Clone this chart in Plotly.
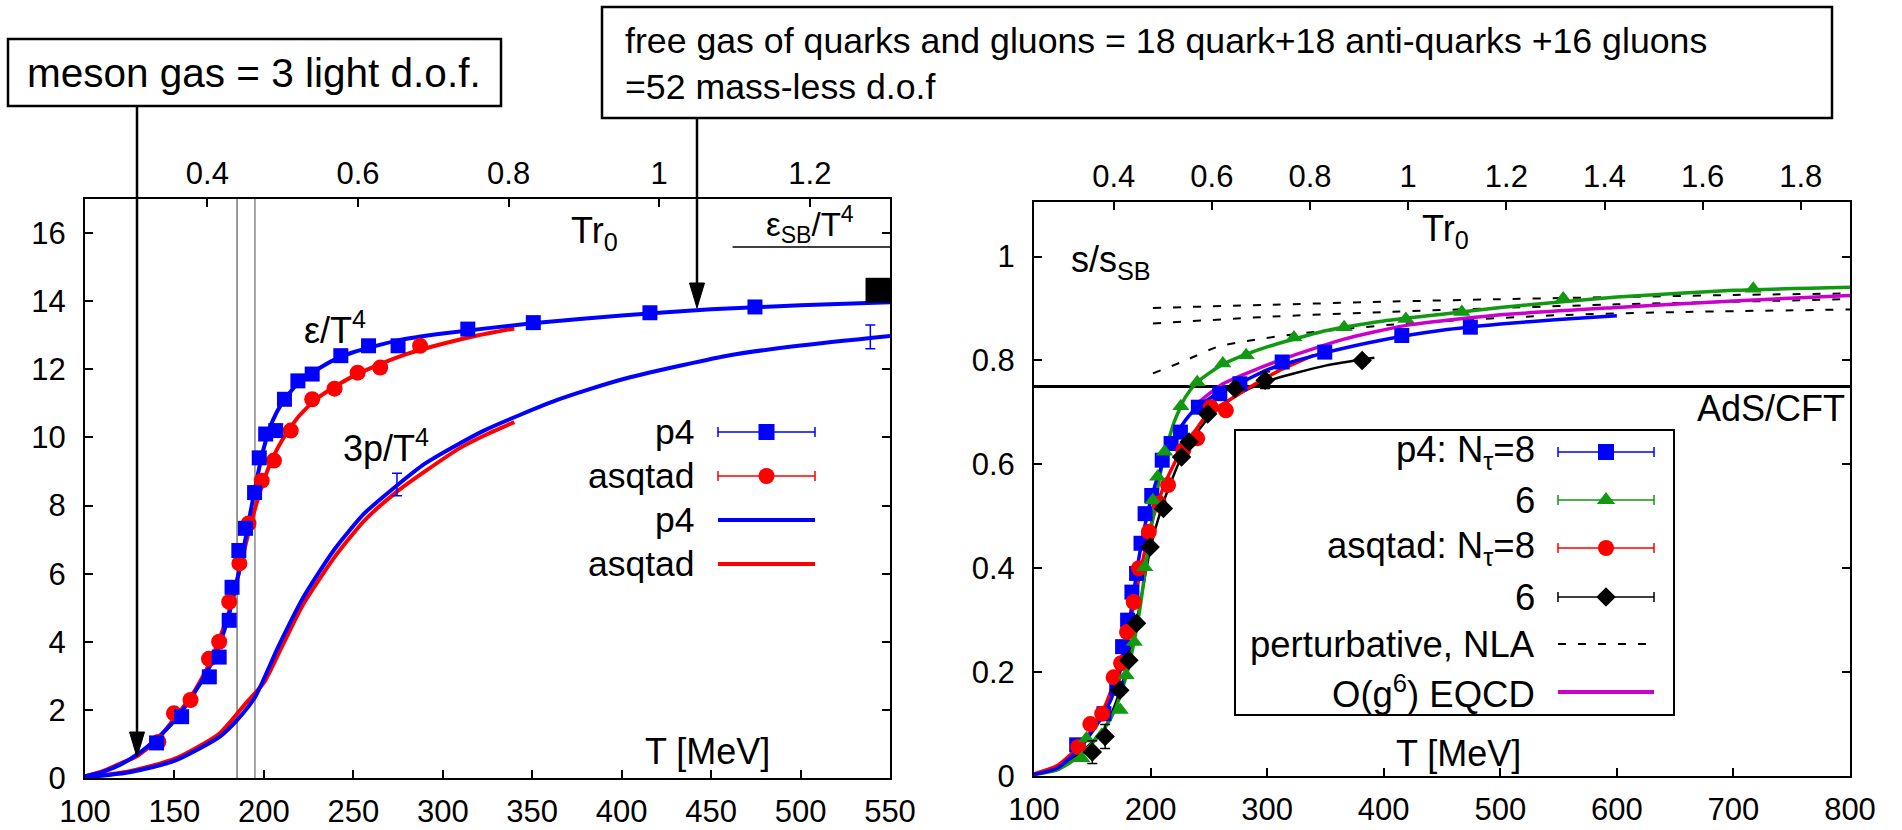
import plotly.graph_objects as go

W, H = 1902, 830
FONT = "Liberation Sans, Arial, Helvetica, sans-serif"
BLUE = "#0000ff"
RED = "#ff0000"
GREEN = "#119911"
MAG = "#cc00cc"
R0 = 421.0  # T [MeV] per unit of T*r0

# ---------------- left panel data ----------------
T_e_p4 = [140, 154, 169.5, 175, 180.6, 182.2, 186, 189.7, 194.8, 197.4, 201, 206.6,
          211.5, 219, 227, 243, 258.5, 275, 314, 350.6, 415.8, 474.5]
e_p4 = [1.03, 1.8, 2.97, 3.55, 4.63, 5.6, 6.68, 7.33, 8.38, 9.4, 10.1, 10.2,
        11.12, 11.66, 11.86, 12.4, 12.69, 12.69, 13.18, 13.37, 13.66, 13.83]
T_e_asq = [141, 149.7, 159, 169.3, 175, 180.6, 186.3, 191.4, 198.8, 205.6, 215, 227,
           239.5, 252.4, 265, 287.3]
e_asq = [1.06, 1.9, 2.29, 3.5, 4.0, 5.17, 6.3, 7.47, 8.73, 9.32, 10.2, 11.12,
         11.43, 11.9, 12.05, 12.69]

T_line_e_p4 = [100, 110, 120, 130, 140, 150, 160, 170, 175, 180, 185, 190, 195, 200, 205,
               210, 215, 220, 230, 240, 250, 275, 300, 350, 400, 450, 500, 550]
line_e_p4 = [0.05, 0.18, 0.4, 0.72, 1.15, 1.68, 2.4, 3.3, 3.9, 4.7, 5.8, 7.1, 8.5, 9.7, 10.5,
             11.0, 11.35, 11.65, 12.0, 12.3, 12.5, 12.85, 13.05, 13.35, 13.58, 13.76, 13.88, 13.97]
T_line_e_asq = [100, 110, 120, 128.5, 140, 150, 160, 170, 180, 185, 190, 195, 200, 205, 210,
                215, 220, 230, 240, 250, 265, 280, 300, 320, 340]
line_e_asq = [0.05, 0.2, 0.43, 0.62, 1.1, 1.75, 2.45, 3.4, 4.8, 5.8, 6.9, 7.9, 8.75, 9.4, 9.9,
              10.3, 10.65, 11.15, 11.5, 11.8, 12.15, 12.45, 12.75, 13.0, 13.2]

T_line_p_p4 = [100, 125, 150, 175, 185, 195, 208, 222, 239, 256, 273, 290, 323, 364,
               400, 459, 500, 550]
line_p_p4 = [0.02, 0.17, 0.5, 1.2, 1.7, 2.37, 3.85, 5.3, 6.68, 7.76, 8.53, 9.23, 10.2, 11.1,
             11.7, 12.4, 12.7, 12.98]
T_line_p_asq = [100, 125, 150, 175, 190, 200, 210, 222, 239, 256, 273, 290, 310, 325, 340]
line_p_asq = [0.02, 0.2, 0.56, 1.3, 2.2, 2.8, 3.85, 5.1, 6.45, 7.55, 8.35, 9.0, 9.7, 10.1, 10.45]

T_p_err = [274.4, 539]
p_err_val = [8.62, 12.95]
p_err = [0.33, 0.35]

T_SB_line = [462, 550]
eps_SB = [15.59, 15.59]
T_cont = [543.3]
e_cont = [14.32]

T_vlines = [185, 195]

# ---------------- right panel data ----------------
T_s_p4_8 = [136.6, 160, 171, 176, 180.3, 184, 188, 191.8, 195.3, 201, 210, 217.6, 225.6,
            241, 259.4, 276.6, 312.9, 349.4, 415.5, 474.3]
s_p4_8 = [0.06, 0.12, 0.169, 0.249, 0.30, 0.354, 0.39, 0.448, 0.505, 0.54, 0.608, 0.64, 0.662,
          0.71, 0.736, 0.755, 0.797, 0.816, 0.848, 0.864]
T_s_p4_6 = [141, 145, 158, 174, 179, 186, 195, 202, 206, 212, 226, 240, 262, 282, 323, 366,
            419, 467, 554, 717]
s_p4_6 = [0.034, 0.072, 0.079, 0.127, 0.194, 0.258, 0.402, 0.531, 0.576, 0.624, 0.712, 0.758,
          0.794, 0.81, 0.844, 0.864, 0.880, 0.893, 0.919, 0.938]
T_s_asq_8 = [138, 148.3, 158.5, 168.3, 174.7, 179.8, 185.5, 190, 198.5, 207.3, 215, 228, 240,
             251.6, 264.6]
s_asq_8 = [0.056, 0.10, 0.12, 0.19, 0.217, 0.277, 0.335, 0.40, 0.47, 0.525, 0.56, 0.627, 0.65,
           0.71, 0.704]
T_s_asq_6 = [150, 161, 173.6, 181.4, 188, 199.6, 211, 226.6, 233, 249, 272.4, 298.3, 381.5]
s_asq_6 = [0.046, 0.076, 0.165, 0.223, 0.294, 0.441, 0.515, 0.614, 0.643, 0.697, 0.746, 0.762, 0.80]
s_asq_6_err = [0.022, 0.023, 0, 0, 0, 0, 0, 0, 0, 0, 0, 0.016, 0]

T_l_p4_8 = [100, 120, 140, 160, 170, 180, 190, 200, 210, 220, 230, 240, 260, 280, 300, 350,
            400, 450, 500, 550, 600]
l_p4_8 = [0.003, 0.015, 0.055, 0.12, 0.17, 0.27, 0.42, 0.53, 0.6, 0.65, 0.685, 0.71, 0.74,
          0.76, 0.782, 0.815, 0.84, 0.858, 0.87, 0.879, 0.886]
T_l_p4_6 = [100, 120, 140, 160, 170, 180, 190, 200, 210, 220, 230, 240, 260, 280, 300, 350,
            400, 450, 500, 600, 700, 800]
l_p4_6 = [0.003, 0.012, 0.04, 0.09, 0.13, 0.2, 0.31, 0.47, 0.6, 0.68, 0.73, 0.758, 0.79, 0.81,
          0.826, 0.857, 0.876, 0.889, 0.902, 0.922, 0.935, 0.941]
T_l_asq_8 = [100, 120, 140, 150, 160, 170, 180, 190, 200, 210, 220, 230, 240, 250, 265, 290,
             310, 340]
l_asq_8 = [0.004, 0.02, 0.06, 0.09, 0.13, 0.19, 0.27, 0.38, 0.48, 0.55, 0.6, 0.64, 0.67, 0.7,
           0.72, 0.755, 0.78, 0.81]
T_l_asq_6 = [100, 120, 140, 160, 170, 180, 190, 200, 210, 220, 230, 250, 275, 300, 350, 392]
l_asq_6 = [0.003, 0.015, 0.045, 0.09, 0.14, 0.21, 0.32, 0.44, 0.52, 0.58, 0.63, 0.69, 0.735,
           0.76, 0.79, 0.805]

T_pert = [202, 300, 400, 500, 600, 700, 800]
pert_hi = [0.901, 0.907, 0.913, 0.918, 0.922, 0.926, 0.929]
pert_mid = [0.871, 0.884, 0.893, 0.901, 0.908, 0.913, 0.918]
T_pert_lo = [202, 230, 257, 290, 325, 418, 548, 650, 800]
pert_lo = [0.775, 0.80, 0.826, 0.84, 0.851, 0.871, 0.887, 0.893, 0.898]

T_eqcd = [240, 262, 314, 366, 418, 496, 600, 704, 800]
s_eqcd = [0.717, 0.755, 0.803, 0.841, 0.867, 0.887, 0.902, 0.915, 0.925]

ads_T = [100, 800]
ads_s = [0.75, 0.75]

left_xticks = [100, 150, 200, 250, 300, 350, 400, 450, 500, 550]
left_yticks = [0, 2, 4, 6, 8, 10, 12, 14, 16]
left_top_ticks = [0.4, 0.6, 0.8, 1.0, 1.2]
right_xticks = [100, 200, 300, 400, 500, 600, 700, 800]
right_yticks = [0, 0.2, 0.4, 0.6, 0.8, 1.0]
right_ytext = ["0", "0.2", "0.4", "0.6", "0.8", "1"]
right_top_ticks = [0.4, 0.6, 0.8, 1.0, 1.2, 1.4, 1.6, 1.8]

fig = go.Figure()

# ---- left panel ----
fig.add_trace(go.Scatter(x=[T_vlines[0], T_vlines[0]], y=[0, 17], mode="lines",
                         line=dict(color="#333333", width=1), xaxis="x", yaxis="y"))
fig.add_trace(go.Scatter(x=[T_vlines[1], T_vlines[1]], y=[0, 17], mode="lines",
                         line=dict(color="#888888", width=1.5), xaxis="x", yaxis="y"))
fig.add_trace(go.Scatter(x=T_SB_line, y=eps_SB, mode="lines",
                         line=dict(color="black", width=1.5), xaxis="x", yaxis="y"))
fig.add_trace(go.Scatter(x=T_line_p_asq, y=line_p_asq, mode="lines",
                         line=dict(color=RED, width=4, shape="spline", smoothing=0.6)))
fig.add_trace(go.Scatter(x=T_line_p_p4, y=line_p_p4, mode="lines",
                         line=dict(color=BLUE, width=4, shape="spline", smoothing=0.6)))
fig.add_trace(go.Scatter(x=T_line_e_asq, y=line_e_asq, mode="lines",
                         line=dict(color=RED, width=4, shape="spline", smoothing=0.6)))
fig.add_trace(go.Scatter(x=T_line_e_p4, y=line_e_p4, mode="lines",
                         line=dict(color=BLUE, width=4, shape="spline", smoothing=0.6)))
fig.add_trace(go.Scatter(x=T_e_asq, y=e_asq, mode="markers",
                         marker=dict(symbol="circle", size=16, color=RED)))
fig.add_trace(go.Scatter(x=T_e_p4, y=e_p4, mode="markers",
                         marker=dict(symbol="square", size=15, color=BLUE)))
fig.add_trace(go.Scatter(x=T_p_err, y=p_err_val, mode="markers",
                         marker=dict(size=1, color=BLUE, opacity=0),
                         error_y=dict(type="data", array=p_err, color=BLUE, thickness=1.5, width=5)))
fig.add_trace(go.Scatter(x=T_cont, y=e_cont, mode="markers",
                         marker=dict(symbol="square", size=25, color="black")))
fig.add_trace(go.Scatter(x=[0.5], y=[-5], mode="markers", marker=dict(opacity=0),
                         xaxis="x3", yaxis="y"))

# ---- right panel ----
for xs, ys in [(T_pert, pert_hi), (T_pert, pert_mid), (T_pert_lo, pert_lo)]:
    fig.add_trace(go.Scatter(x=xs, y=ys, mode="lines", xaxis="x2", yaxis="y2",
                             line=dict(color="black", width=2, dash="8px,12px",
                                       shape="spline", smoothing=0.6)))
fig.add_trace(go.Scatter(x=ads_T, y=ads_s, mode="lines", xaxis="x2", yaxis="y2",
                         line=dict(color="black", width=3)))
fig.add_trace(go.Scatter(x=T_l_asq_6, y=l_asq_6, mode="lines", xaxis="x2", yaxis="y2",
                         line=dict(color="black", width=2.5, shape="spline", smoothing=0.6)))
fig.add_trace(go.Scatter(x=T_l_asq_8, y=l_asq_8, mode="lines", xaxis="x2", yaxis="y2",
                         line=dict(color=RED, width=3.5, shape="spline", smoothing=0.6)))
fig.add_trace(go.Scatter(x=T_l_p4_6, y=l_p4_6, mode="lines", xaxis="x2", yaxis="y2",
                         line=dict(color=GREEN, width=3.5, shape="spline", smoothing=0.6)))
fig.add_trace(go.Scatter(x=T_l_p4_8, y=l_p4_8, mode="lines", xaxis="x2", yaxis="y2",
                         line=dict(color=BLUE, width=3.5, shape="spline", smoothing=0.6)))
fig.add_trace(go.Scatter(x=T_eqcd, y=s_eqcd, mode="lines", xaxis="x2", yaxis="y2",
                         line=dict(color=MAG, width=3.5, shape="spline", smoothing=0.6)))
fig.add_trace(go.Scatter(x=T_s_p4_8, y=s_p4_8, mode="markers", xaxis="x2", yaxis="y2",
                         marker=dict(symbol="square", size=15, color=BLUE)))
fig.add_trace(go.Scatter(x=T_s_asq_8, y=s_asq_8, mode="markers", xaxis="x2", yaxis="y2",
                         marker=dict(symbol="circle", size=16, color=RED)))
fig.add_trace(go.Scatter(x=T_s_p4_6, y=s_p4_6, mode="markers", xaxis="x2", yaxis="y2",
                         marker=dict(symbol="triangle-up", size=15, color=GREEN)))
fig.add_trace(go.Scatter(x=T_s_asq_6, y=s_asq_6, mode="markers", xaxis="x2", yaxis="y2",
                         marker=dict(symbol="diamond", size=15, color="black"),
                         error_y=dict(type="data", array=s_asq_6_err, color="black",
                                      thickness=1.5, width=5)))
fig.add_trace(go.Scatter(x=[0.5], y=[-5], mode="markers", marker=dict(opacity=0),
                         xaxis="x4", yaxis="y2"))

# ---- legends (pixel overlay axis x5/y5) ----
left_leg = [("p4", "marker", BLUE, "square"), ("asqtad", "marker", RED, "circle"),
            ("p4", "line", BLUE, None), ("asqtad", "line", RED, None)]
left_rows = [432, 476, 520, 564]
right_leg = [("p4: N<sub>τ</sub>=8", "marker", BLUE, "square"),
             ("6", "marker", GREEN, "triangle-up"),
             ("asqtad: N<sub>τ</sub>=8", "marker", RED, "circle"),
             ("6", "marker", "black", "diamond"),
             ("perturbative, NLA", "dash", "black", None),
             ("O(g<sup>6</sup>) EQCD", "line", MAG, None)]
right_rows = [452, 500, 548, 597, 644, 692]

annotations = []
shapes = []

def add_legend(entries, rows, text_x, s0, s1, size):
    mid = (s0 + s1) / 2
    for (label, kind, col, sym), yy in zip(entries, rows):
        annotations.append(dict(x=text_x, y=yy, xref="x5", yref="y5", text=label,
                                showarrow=False, xanchor="right", yanchor="middle",
                                font=dict(size=size, color="black", family=FONT)))
        if kind == "marker":
            fig.add_trace(go.Scatter(x=[mid], y=[yy], mode="markers", xaxis="x5", yaxis="y5",
                                     marker=dict(symbol=sym, size=16 if sym != "diamond" else 15,
                                                 color=col),
                                     error_x=dict(type="data", array=[(s1 - s0) / 2], color=col,
                                                  thickness=1.5, width=5)))
        elif kind == "line":
            fig.add_trace(go.Scatter(x=[s0, s1], y=[yy, yy], mode="lines", xaxis="x5", yaxis="y5",
                                     line=dict(color=col, width=4)))
        else:
            fig.add_trace(go.Scatter(x=[s0, s1], y=[yy, yy], mode="lines", xaxis="x5", yaxis="y5",
                                     line=dict(color=col, width=2, dash="8px,12px")))

add_legend(left_leg, left_rows, 697, 718, 815, 35.5)
shapes.append(dict(type="rect", xref="x5", yref="y5", x0=1235, x1=1674, y0=430, y1=715,
                   line=dict(color="black", width=2), fillcolor="white", layer="below"))
add_legend(right_leg, right_rows, 1537, 1558, 1654, 36.5)

# ---- text labels in data coordinates ----
def lab(x, y, text, xr, yr, size=36, xanchor="center"):
    annotations.append(dict(x=x, y=y, xref=xr, yref=yr, text=text, showarrow=False,
                            xanchor=xanchor, yanchor="middle",
                            font=dict(size=size, color="black", family=FONT)))

lab(240, 13.2, "ε/T<sup>4</sup>", "x", "y")
lab(268, 9.75, "3p/T<sup>4</sup>", "x", "y")
lab(385, 16.0, "Tr<sub>0</sub>", "x", "y")
lab(505, 16.25, "ε<sub>SB</sub>/T<sup>4</sup>", "x", "y", size=33)
lab(448, 0.77, "T [MeV]", "x", "y")
lab(130, 0.99, "s/s<sub>SB</sub>", "x2", "y2", xanchor="left")
lab(453, 1.05, "Tr<sub>0</sub>", "x2", "y2")
lab(797, 0.707, "AdS/CFT", "x2", "y2", xanchor="right")
lab(464, 0.044, "T [MeV]", "x2", "y2")

# ---- annotation boxes with arrows (pixel coordinates) ----
shapes.append(dict(type="rect", xref="x5", yref="y5", x0=8, x1=501, y0=39, y1=106,
                   line=dict(color="black", width=2.5)))
annotations.append(dict(x=25, y=73, xref="x5", yref="y5", text="meson gas = 3 light d.o.f.",
                        showarrow=False, xanchor="left", yanchor="middle",
                        font=dict(size=40.5, color="black", family=FONT)))
shapes.append(dict(type="rect", xref="x5", yref="y5", x0=602, x1=1832, y0=7, y1=118,
                   line=dict(color="black", width=2.5)))
annotations.append(dict(x=623, y=64, xref="x5", yref="y5",
                        text="free gas of quarks and gluons = 18 quark+18 anti-quarks +16 gluons<br>=52 mass-less d.o.f",
                        showarrow=False, xanchor="left", yanchor="middle", align="left",
                        font=dict(size=35.7, color="black", family=FONT)))
for ax_x, y_top, y_tip in [(137, 106, 757), (697, 118, 308)]:
    shapes.append(dict(type="line", xref="x5", yref="y5", x0=ax_x, x1=ax_x, y0=y_top,
                       y1=y_tip - 20, line=dict(color="black", width=2.5)))
    shapes.append(dict(type="path", xref="x5", yref="y5",
                       path=f"M {ax_x-7.5},{y_tip-25} L {ax_x+7.5},{y_tip-25} L {ax_x},{y_tip} Z",
                       fillcolor="black", line=dict(color="black", width=1)))

# ---- axes ----
tickfont = dict(size=31, color="black", family=FONT)
common = dict(ticks="inside", ticklen=8, tickwidth=1.5, tickcolor="black", showgrid=False,
              zeroline=False, tickfont=tickfont, automargin=False)
Lx = [85 / W, 890 / W]
Ly = [1 - 778 / H, 1 - 199 / H]
Rx = [1034 / W, 1850 / W]
Ry = [1 - 776 / H, 1 - 202 / H]

fig.update_layout(
    width=W, height=H, margin=dict(l=0, r=0, t=0, b=0, autoexpand=False),
    paper_bgcolor="white", plot_bgcolor="rgba(0,0,0,0)", showlegend=False,
    xaxis=dict(domain=Lx, range=[100, 550], anchor="y", tickvals=left_xticks,
               showline=True, linewidth=2, linecolor="black", mirror=True,
               ticklabelstandoff=5, **common),
    yaxis=dict(domain=Ly, range=[0, 17], anchor="x", tickvals=left_yticks,
               showline=True, linewidth=2, linecolor="black", mirror="ticks",
               ticklabelstandoff=11, **common),
    xaxis3=dict(overlaying="x", side="top", anchor="y", range=[100 / R0, 550 / R0],
                tickvals=left_top_ticks, ticktext=["0.4", "0.6", "0.8", "1", "1.2"],
                showline=False, ticklabelstandoff=8, **common),
    xaxis2=dict(domain=Rx, range=[100, 800], anchor="y2", tickvals=right_xticks,
                showline=True, linewidth=2, linecolor="black", mirror=True,
                ticklabelstandoff=5, **common),
    yaxis2=dict(domain=Ry, range=[0, 1.105], anchor="x2", tickvals=right_yticks,
                ticktext=right_ytext, showline=True, linewidth=2, linecolor="black",
                mirror="ticks", ticklabelstandoff=11, **common),
    xaxis4=dict(overlaying="x2", side="top", anchor="y2", range=[100 / R0, 800 / R0],
                tickvals=right_top_ticks,
                ticktext=["0.4", "0.6", "0.8", "1", "1.2", "1.4", "1.6", "1.8"],
                showline=False, ticklabelstandoff=8, **common),
    xaxis5=dict(domain=[0, 1], range=[0, W], anchor="y5", visible=False, fixedrange=True,
                automargin=False),
    yaxis5=dict(domain=[0, 1], range=[H, 0], anchor="x5", visible=False, fixedrange=True,
                automargin=False),
    annotations=annotations, shapes=shapes,
)

fig.write_html("out.html")
